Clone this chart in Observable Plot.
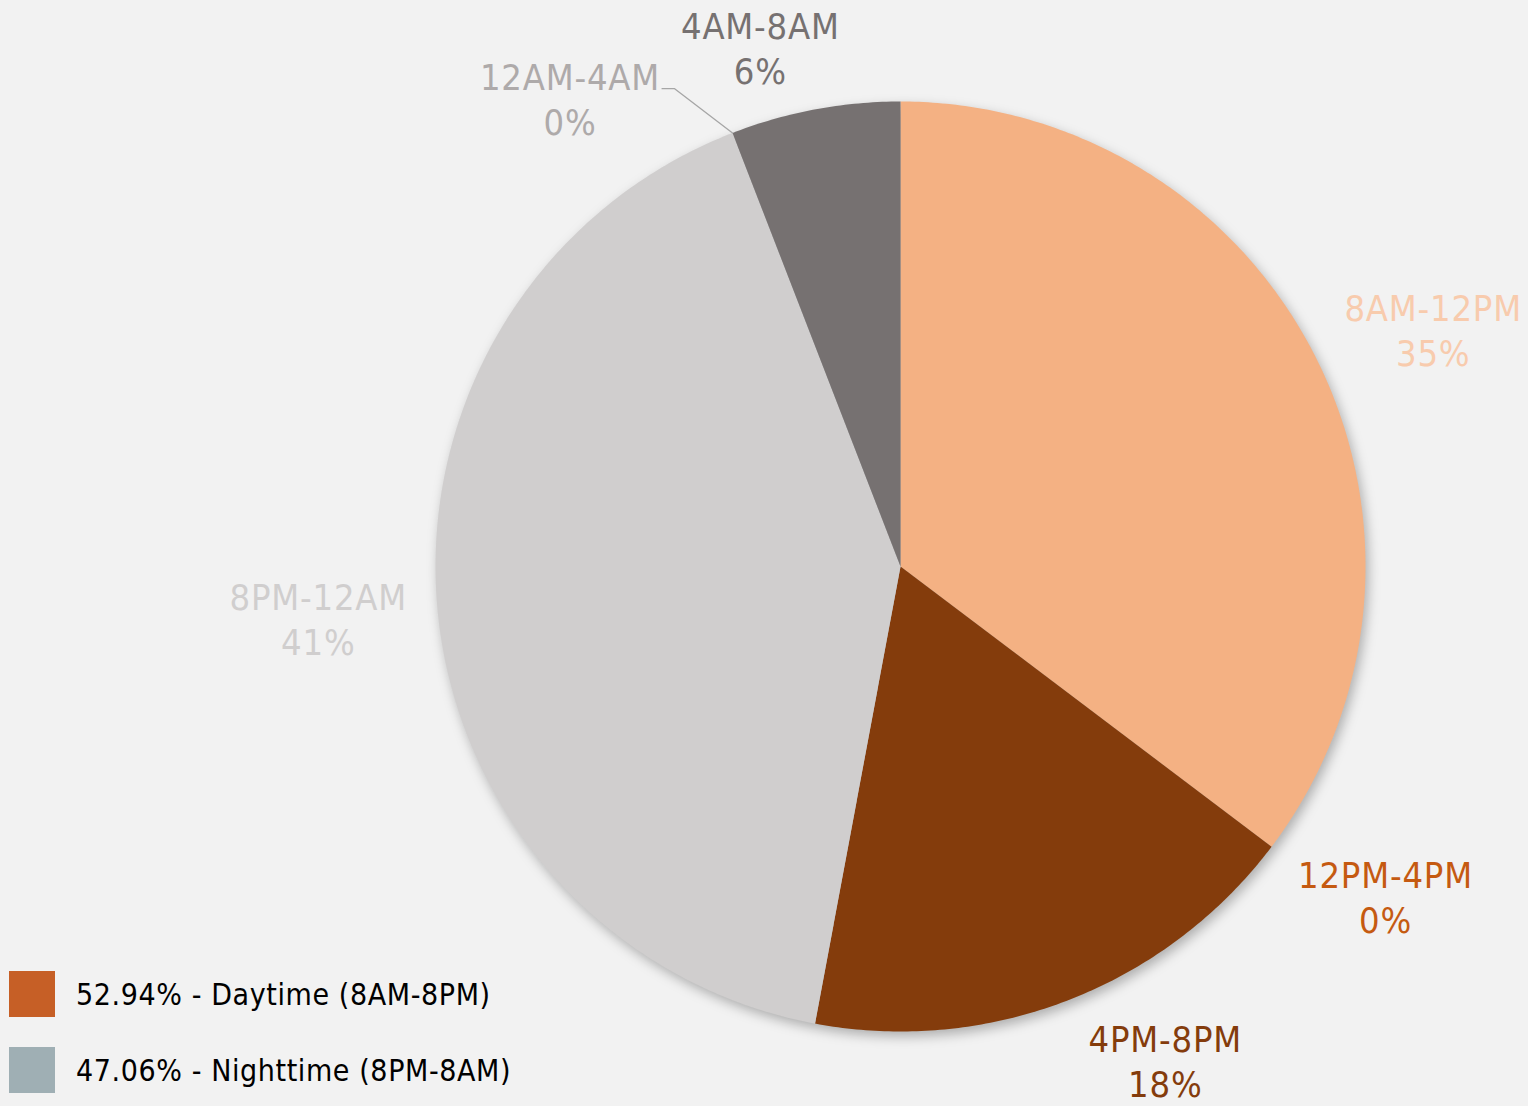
<!DOCTYPE html>
<html>
<head>
<meta charset="utf-8">
<script src="https://cdn.jsdelivr.net/npm/d3@7"></script>
<script src="https://cdn.jsdelivr.net/npm/@observablehq/plot@0.6"></script>
<style>
  html, body { margin: 0; padding: 0; background: #F2F2F2; }
  #wrap { position: relative; width: 1528px; height: 1106px; overflow: hidden; }
  #legend { position: absolute; left: 9px; top: 971px; font-family: "DejaVu Sans Condensed", "DejaVu Sans", sans-serif; font-size: 30px; letter-spacing: 0.6px; color: #000; }
  .item { display: flex; align-items: center; height: 46px; margin-bottom: 30px; }
  .sw { width: 46px; height: 46px; margin-right: 21px; }
</style>
</head>
<body>
<div id="wrap"><div id="legend"></div></div>
<script>
// ---- data ----
const categories = ["8AM-12PM", "12PM-4PM", "4PM-8PM", "8PM-12AM", "12AM-4AM", "4AM-8AM"];
const counts = [6, 0, 3, 7, 0, 1];
const percentLabels = ["35%", "0%", "18%", "41%", "0%", "6%"];
const sliceColors = ["#F4B183", "#C55A11", "#843C0C", "#D0CECE", "#AEAAAA", "#767171"];
const labelColors = ["#F8CBAD", "#C55A11", "#843C0C", "#D0CECE", "#AEAAAA", "#767171"];
const legendLabels = ["52.94% - Daytime (8AM-8PM)", "47.06% - Nighttime (8PM-8AM)"];
const legendColors = ["#C65F26", "#9FAFB4"];

// ---- layout (label placement: angle in degrees clockwise from top, radius factor) ----
const labelAngle = [66.0, 124.2, 151.8, 264.9, 324.8, 344.9];
const labelRadius = [1.254, 1.261, 1.205, 1.257, 1.233, 1.157];
const FONT = '"DejaVu Sans Condensed", "DejaVu Sans", sans-serif';

const W = 1528, H = 1106, CX = 900, CY = 566, R = 465;

const pie = d3.pie().sort(null).value(d => d)(counts);
const slicePts = [];
pie.forEach((p, i) => {
  const steps = Math.max(2, Math.ceil((p.endAngle - p.startAngle) / 0.01));
  slicePts.push({cat: categories[i], x: 0, y: 0});
  for (let k = 0; k <= steps; k++) {
    const a = p.startAngle + (p.endAngle - p.startAngle) * k / steps;
    slicePts.push({cat: categories[i], x: Math.sin(a), y: Math.cos(a)});
  }
  slicePts.push({cat: categories[i], x: 0, y: 0});
});

const labels = categories.map((c, i) => {
  const a = labelAngle[i] * Math.PI / 180;
  return {cat: c, text: c + "\n" + percentLabels[i], x: labelRadius[i] * Math.sin(a), y: labelRadius[i] * Math.cos(a), color: labelColors[i]};
});

// leader line for the 12AM-4AM label
const li = 4;
const la = pie[li].startAngle;
const leader = [
  {x: Math.sin(la), y: Math.cos(la)},
  {x: labels[li].x + 0.225, y: labels[li].y + 0.02},
  {x: labels[li].x + 0.198, y: labels[li].y + 0.02}
];

const plot = Plot.plot({
  width: W, height: H,
  margin: 0,
  style: {background: "transparent", fontFamily: FONT, letterSpacing: "0.8px"},
  x: {domain: [-CX / R, (W - CX) / R], axis: null},
  y: {domain: [-(H - CY) / R, CY / R], axis: null},
  color: {domain: categories, range: sliceColors},
  marks: [
    Plot.line(slicePts, {x: "x", y: "y", z: "cat", fill: "cat", stroke: "none", curve: "linear"}),
    Plot.line(leader, {x: "x", y: "y", stroke: "#A6A6A6", strokeWidth: 1.3}),
    Plot.text(labels, {x: "x", y: "y", text: "text", fill: "color", fontSize: 36, lineHeight: 1.25, textAnchor: "middle", lineAnchor: "middle"})
  ]
});
d3.select(plot).select('g[aria-label="line"]').style("filter", "drop-shadow(3px 5px 6px rgba(0,0,0,0.28))");
document.getElementById("wrap").prepend(plot);
plot.style.position = "absolute"; plot.style.left = "0"; plot.style.top = "0";

const leg = d3.select("#legend");
legendLabels.forEach((t, i) => {
  const it = leg.append("div").attr("class", "item");
  it.append("div").attr("class", "sw").style("background", legendColors[i]);
  it.append("span").text(t);
});
</script>
</body>
</html>
